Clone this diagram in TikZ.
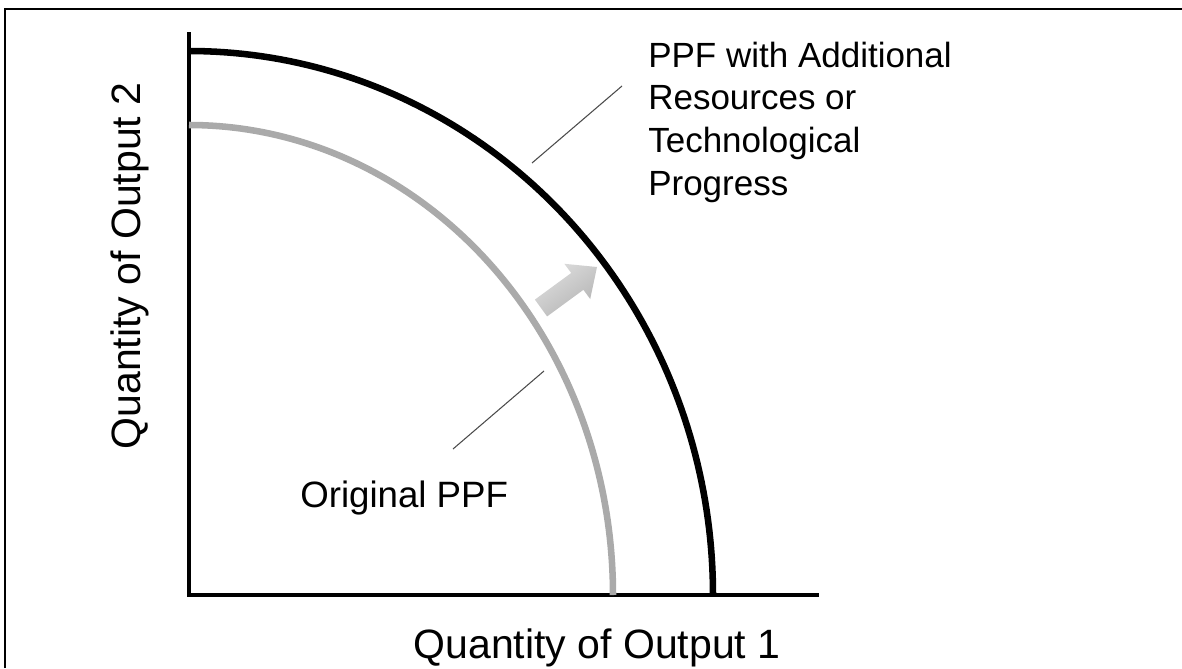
\documentclass[tikz,border=0pt]{standalone}
\usepackage{fontspec}
\setmainfont{Liberation Sans}
\definecolor{ppfgray}{HTML}{AAAAAA}
\definecolor{shiftlight}{HTML}{DEDEDE}
\definecolor{shiftdark}{HTML}{B4B4B4}
\begin{document}
\begin{tikzpicture}[x=0.75pt,y=-0.75pt,
  frameline/.style={line width=2.2pt, black},
  axisline/.style={line width=2.6pt, black, line cap=rect},
  ppfnew/.style={line width=4.9pt, black, line join=round},
  ppfold/.style={line width=4.9pt, ppfgray, line join=round},
  leader/.style={line width=0.8pt, black!70},
  lbl/.style={inner sep=0pt, font=\fontsize{26.25}{31.9}\selectfont},
  axlbl/.style={inner sep=0pt, font=\fontsize{30.75}{36}\selectfont},
  oldlbl/.style={inner sep=0pt, font=\fontsize{27.5}{33}\selectfont},
]
\useasboundingbox (0,0) rectangle (1182,668);
\fill[white] (0,0) rectangle (1182,668);

% open frame: top and left edges only
\draw[frameline] (5,668) -- (5,9) -- (1182,9);

% axes
\coordinate (origin) at (189,595);
\coordinate (ytop) at (189,34);
\coordinate (xend) at (817,595);
\draw[axisline] (ytop) -- (origin) -- (xend);

% production possibility frontiers (quarter ellipses about the origin)
\draw[ppfold] plot[domain=0:90, samples=91] ({189+424*cos(\x)}, {595-470*sin(\x)});
\draw[ppfnew] plot[domain=0:90, samples=91] ({189+524*cos(\x)}, {595-544*sin(\x)});

% outward shift arrow
\shade[left color=shiftlight, right color=shiftdark, shading angle=36]
  (534.9,299.6) -- (547.1,316.4) -- (583.4,289.8) -- (590.2,299.0)
  -- (597,267) -- (564.4,263.8) -- (571.2,273.0) -- cycle;

% labels (multi-line node is anchored on the baseline of its last line)
\node[lbl, anchor=base west, align=left] (ppfNewLbl) at (648,195)
  {PPF with Additional\\Resources or\\Technological\\Progress};
\node[oldlbl, anchor=base west] (ppfOldLbl) at (300,507) {Original PPF};
\node[axlbl, anchor=base] (xLbl) at (597,658) {Quantity of Output 1};
\node[axlbl, anchor=base, rotate=90] (yLbl) at (140,266) {Quantity of Output 2};

% leader lines
\coordinate (newOnCurve) at (532,163);
\coordinate (newLead) at (622,86);
\coordinate (oldOnCurve) at (544,371);
\coordinate (oldLead) at (453,449);
\draw[leader] (newOnCurve) -- (newLead);
\draw[leader] (oldLead) -- (oldOnCurve);
\end{tikzpicture}
\end{document}
